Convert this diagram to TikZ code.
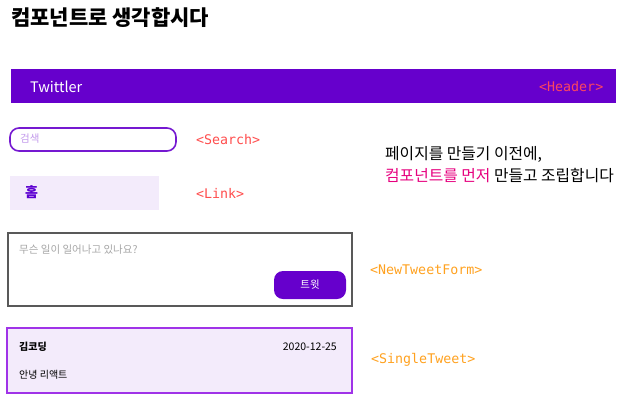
\documentclass[tikz,border=0pt]{standalone}
\usepackage{fontspec}
\setmainfont{Noto Sans CJK KR}
\newfontfamily\codefont{DejaVu Sans Mono}
\definecolor{twpurple}{HTML}{6600CC}
\definecolor{twviolet}{HTML}{A033E8}
\definecolor{twlight}{HTML}{F3EBFB}
\definecolor{tagred}{HTML}{FF4D4D}
\definecolor{tagorange}{HTML}{FFA11F}
\definecolor{hotpink}{HTML}{E6007E}
\tikzset{
  tag/.style={anchor=west, font=\codefont\fontsize{13.3}{15}\selectfont},
  ui/.style={anchor=west, font=\fontsize{10}{12}\selectfont},
}
\begin{document}
\begin{tikzpicture}[x=1pt,y=-1pt,inner sep=0pt]
        \useasboundingbox (0,0) rectangle (624,400);
        % title
        \node[anchor=west, font=\bfseries\fontsize{21}{25}\selectfont] (title) at (11,18) {컴포넌트로 생각합시다};
        % header bar
        \fill[twpurple] (11,69) rectangle (616,103);
        \node[anchor=west, text=white, font=\fontsize{14.5}{17}\selectfont] (logo) at (30,86.5) {Twittler};
        \node[tag, text=tagred!90!magenta] (header) at (539,87) {<Header>};
        % search
        \draw[color=twpurple!90!white, line width=1.6pt, rounded corners=9pt] (10,128) rectangle (176,151);
        \node[ui, text=twpurple!40!white, font=\fontsize{10.5}{12}\selectfont] (search) at (20,139) {검색};
        \node[tag, text=tagred] (searchtag) at (196,140) {<Search>};
        % link
        \fill[twlight] (10,176) rectangle (159,210);
        \node[anchor=west, text=twpurple!90!blue, font=\bfseries\fontsize{14}{16}\selectfont] (home) at (25,192.5) {홈};
        \node[tag, text=tagred] (linktag) at (196,193) {<Link>};
        % new tweet form
        \draw[color=black!65, line width=1.4pt] (8,233) rectangle (352,306);
        \node[ui, text=black!35, font=\fontsize{10.5}{12}\selectfont] (placeholder) at (19,250) {무슨 일이 일어나고 있나요?};
        \fill[twpurple, rounded corners=9pt] (274,271) rectangle (346,299);
        \node[text=white, font=\fontsize{10.5}{12}\selectfont] (tweetbtn) at (310,285) {트윗};
        \node[tag, text=tagorange] (formtag) at (370,270) {<NewTweetForm>};
        % single tweet
        \draw[color=twviolet, fill=twlight, line width=1.4pt] (7,328) rectangle (352,393);
        \node[ui, font=\bfseries\fontsize{10}{12}\selectfont] (author) at (19,347) {김코딩};
        \node[anchor=east, font=\fontsize{10.5}{12}\selectfont] (date) at (337,347) {2020-12-25};
        \node[ui] (content) at (19,375) {안녕 리액트};
        \node[tag, text=tagorange] (tweettag) at (371,360) {<SingleTweet>};
        % note
        \begin{scope}[font=\fontsize{15.8}{18}\selectfont]
            \node[anchor=west] (note1) at (385,154) {페이지를 만들기 이전에,};
            \node[anchor=west] (note2) at (385,176) {\textcolor{hotpink}{컴포넌트를 먼저} 만들고 조립합니다};
        \end{scope}
    \end{tikzpicture}
\end{document}
